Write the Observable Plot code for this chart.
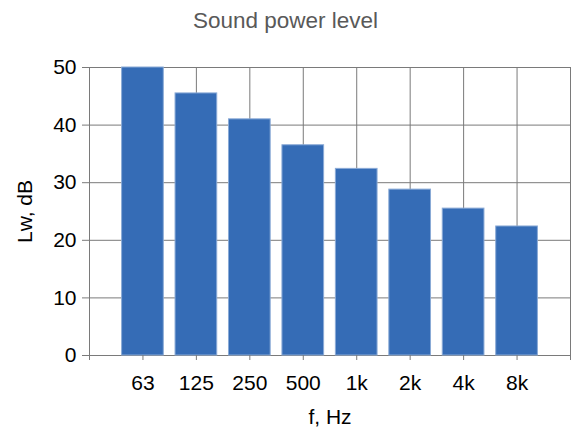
<!DOCTYPE html>
<html>
<head>
<meta charset="utf-8">
<script src="https://cdn.jsdelivr.net/npm/d3@7"></script>
<script src="https://cdn.jsdelivr.net/npm/@observablehq/plot@0.6"></script>
<style>
  html, body { margin: 0; padding: 0; background: #fff; }
  #title { width: 571px; height: 40px; box-sizing: border-box; padding-top: 10px;
           text-align: center; font: 22.5px "Liberation Sans", Arial, sans-serif; line-height: 22px; color: #595959; }
</style>
</head>
<body>
<div id="title">Sound power level</div>
<div id="chart"></div>
<script>
const labels = ["63", "125", "250", "500", "1k", "2k", "4k", "8k"];
const values = [50, 45.5, 41, 36.5, 32.4, 28.8, 25.5, 22.4];
const yTicks = [0, 10, 20, 30, 40, 50];
const xTicks = [0, 1, 2, 3, 4, 5, 6, 7, 8, 9];

const data = labels.map((f, i) => ({f, pos: i + 1, value: values[i]}));
const gridColor = "#7a7a7a";

const chart = Plot.plot({
  width: 571,
  height: 391,
  marginTop: 27,
  marginBottom: 76,
  marginLeft: 89,
  marginRight: 1,
  style: {fontFamily: "'Liberation Sans', Arial, sans-serif", background: "#fff", color: "#000"},
  x: {type: "linear", domain: [0, 9]},
  y: {domain: [0, 50]},
  marks: [
    Plot.gridX(xTicks, {stroke: gridColor, strokeOpacity: 1}),
    Plot.gridY(yTicks, {stroke: gridColor, strokeOpacity: 1}),
    Plot.rectY(data, {
      x1: d => d.pos - 0.39,
      x2: d => d.pos + 0.39,
      y: "value",
      fill: "#356cb6",
      stroke: "#8aaad6",
      strokeWidth: 1
    }),
    Plot.axisX(xTicks, {
      tickSize: 5,
      tickPadding: 15,
      stroke: gridColor,
      fill: "#000",
      fontSize: 21,
      tickFormat: v => labels[v - 1] ?? "",
      label: "f, Hz",
      labelAnchor: "center",
      labelArrow: "none",
      labelOffset: 68
    }),
    Plot.axisY(yTicks, {
      tickSize: 7,
      tickPadding: 6,
      stroke: gridColor,
      fill: "#000",
      fontSize: 21,
      label: "Lw, dB",
      labelAnchor: "center",
      labelArrow: "none",
      labelOffset: 72
    })
  ]
});
document.getElementById("chart").appendChild(chart);
</script>
</body>
</html>
